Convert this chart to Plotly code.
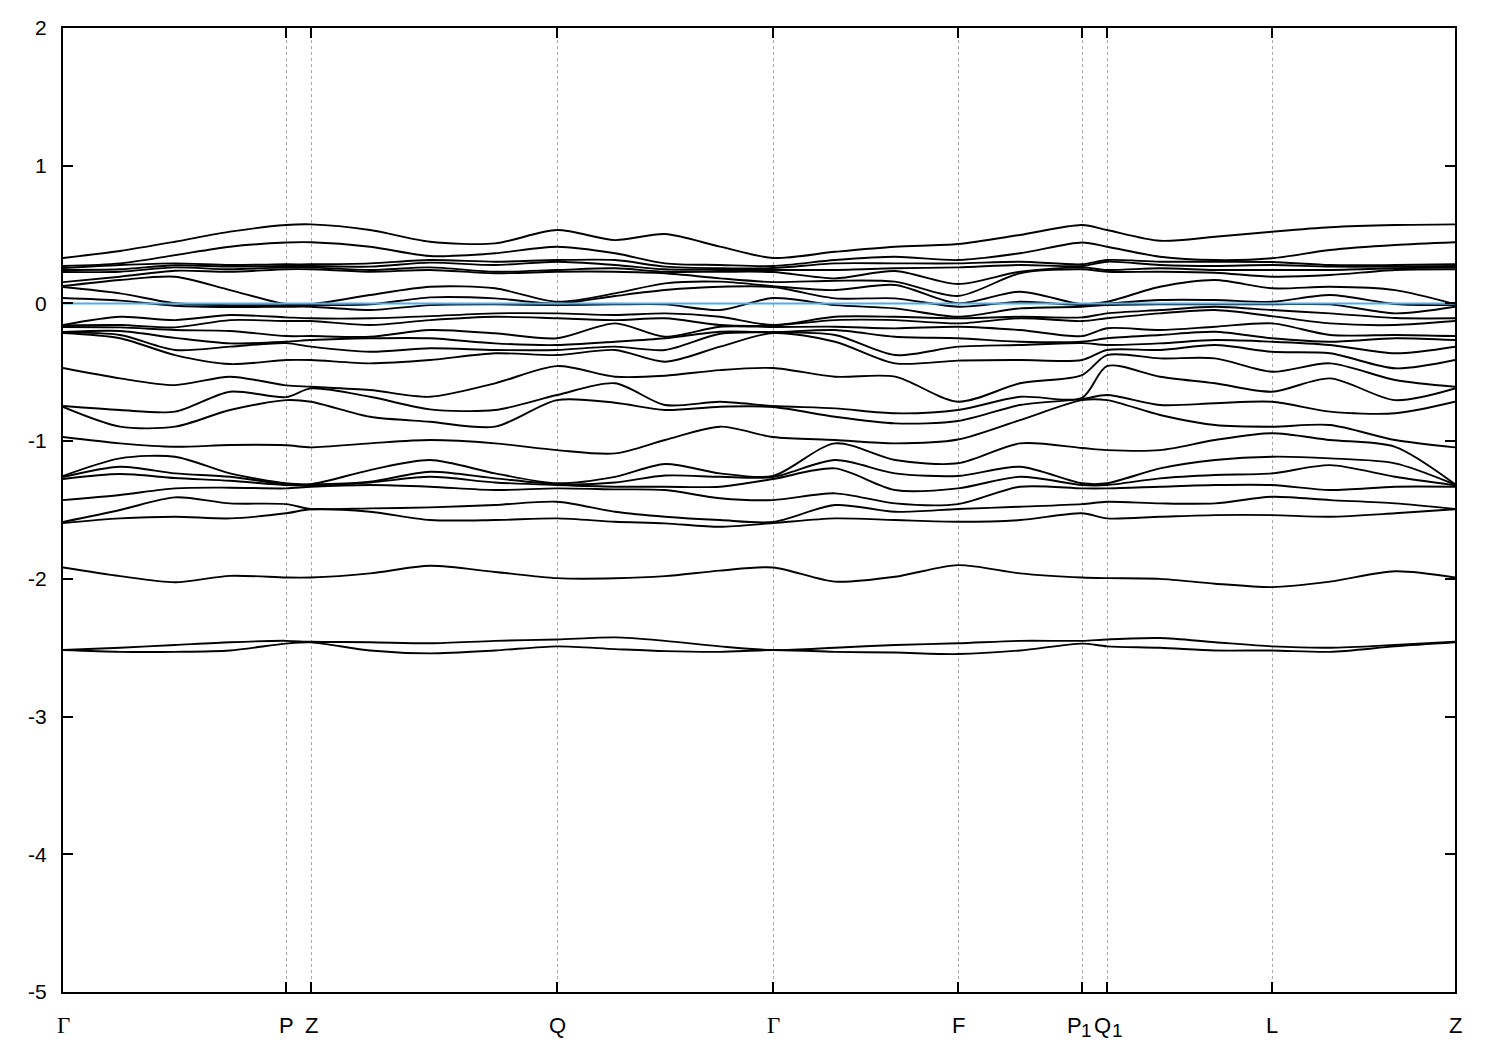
import plotly.graph_objects as go

# ---- k-path (high-symmetry points) ----
k_labels = ["Γ", "P", "Z", "Q", "Γ", "F", "P1", "Q1", "L", "Z"]
k_ticks = [0.0, 0.5575, 0.62, 1.235, 1.775, 2.2375, 2.5475, 2.61, 3.0225, 3.48]

# k positions where band energies were read
k_samples = [0.0, 0.1425, 0.28, 0.4175, 0.5575, 0.62, 0.7675, 0.9175, 1.08, 1.235,
             1.38, 1.505, 1.6425, 1.775, 1.93, 2.08, 2.2375, 2.3925, 2.5475, 2.61,
             2.7425, 2.88, 3.0225, 3.1675, 3.33, 3.48]

# ---- energies (eV) of the 25 upper bands at each sampled k ----
e_G = [0.330, 0.272, 0.257, 0.243, 0.228, 0.155, 0.126, 0.119, 0.039, -0.157, -0.160, -0.171, -0.208, -0.210, -0.215,
       -0.469, -0.745, -0.752, -0.970, -1.253, -1.261, -1.275, -1.428, -1.587, -1.595]
e_GP1 = [0.381, 0.291, 0.279, 0.248, 0.230, 0.194, 0.170, 0.073, 0.020, -0.097, -0.157, -0.174, -0.200, -0.229, -0.253,
         -0.544, -0.774, -0.895, -1.016, -1.125, -1.186, -1.239, -1.391, -1.500, -1.561]
e_GP2 = [0.448, 0.351, 0.291, 0.277, 0.262, 0.237, 0.194, 0.001, -0.017, -0.121, -0.174, -0.193, -0.250, -0.338, -0.375,
         -0.593, -0.786, -0.895, -1.041, -1.113, -1.234, -1.268, -1.343, -1.408, -1.549]
e_GP3 = [0.521, 0.412, 0.279, 0.267, 0.248, 0.230, 0.097, -0.012, -0.026, -0.084, -0.121, -0.200, -0.290, -0.314, -0.440,
         -0.532, -0.641, -0.774, -1.028, -1.234, -1.259, -1.288, -1.338, -1.452, -1.561]
e_P = [0.569, 0.442, 0.284, 0.272, 0.262, 0.248, -0.005, -0.012, -0.024, -0.101, -0.128, -0.237, -0.278, -0.288, -0.411,
       -0.595, -0.680, -0.702, -1.030, -1.306, -1.312, -1.319, -1.343, -1.457, -1.524]
e_Z = [0.574, 0.444, 0.284, 0.272, 0.262, 0.248, -0.005, -0.012, -0.024, -0.108, -0.128, -0.237, -0.266, -0.314, -0.411,
       -0.605, -0.617, -0.714, -1.045, -1.312, -1.315, -1.321, -1.331, -1.493, -1.495]
e_ZQ1 = [0.533, 0.412, 0.291, 0.267, 0.243, 0.230, 0.061, -0.007, -0.048, -0.108, -0.157, -0.242, -0.253, -0.351, -0.435,
         -0.629, -0.678, -0.823, -1.016, -1.210, -1.295, -1.300, -1.319, -1.488, -1.513]
e_ZQ2 = [0.448, 0.344, 0.315, 0.296, 0.262, 0.243, 0.121, 0.044, -0.012, -0.092, -0.121, -0.193, -0.253, -0.326, -0.411,
         -0.678, -0.769, -0.859, -0.992, -1.137, -1.222, -1.259, -1.331, -1.481, -1.573]
e_ZQ3 = [0.436, 0.364, 0.303, 0.279, 0.230, 0.219, 0.110, 0.037, -0.007, -0.072, -0.097, -0.217, -0.290, -0.338, -0.362,
         -0.580, -0.774, -0.895, -1.016, -1.234, -1.270, -1.300, -1.355, -1.464, -1.573]
e_Q = [0.533, 0.412, 0.315, 0.303, 0.243, 0.230, 0.012, -0.001, -0.012, -0.072, -0.108, -0.253, -0.302, -0.338, -0.375,
       -0.455, -0.665, -0.702, -1.065, -1.306, -1.312, -1.319, -1.343, -1.440, -1.561]
e_QG1 = [0.460, 0.364, 0.315, 0.279, 0.255, 0.230, 0.073, 0.054, -0.007, -0.084, -0.121, -0.145, -0.278, -0.314, -0.338,
         -0.532, -0.580, -0.721, -1.089, -1.259, -1.300, -1.331, -1.350, -1.513, -1.585]
e_QG2 = [0.504, 0.291, 0.267, 0.248, 0.230, 0.219, 0.146, 0.097, -0.007, -0.072, -0.108, -0.242, -0.253, -0.338, -0.423,
         -0.525, -0.738, -0.774, -0.992, -1.166, -1.250, -1.331, -1.355, -1.549, -1.597]
e_QG3 = [0.412, 0.279, 0.255, 0.243, 0.230, 0.182, 0.158, 0.121, -0.048, -0.097, -0.157, -0.169, -0.206, -0.220, -0.314,
         -0.484, -0.714, -0.750, -0.895, -1.234, -1.259, -1.331, -1.415, -1.573, -1.622]
e_GF1 = [0.375, 0.315, 0.291, 0.243, 0.182, 0.165, 0.097, 0.037, -0.012, -0.097, -0.121, -0.169, -0.193, -0.229, -0.278,
         -0.532, -0.762, -0.823, -0.992, -1.016, -1.137, -1.198, -1.379, -1.464, -1.561]
e_GF2 = [0.412, 0.339, 0.291, 0.255, 0.235, 0.158, 0.134, 0.037, -0.036, -0.097, -0.121, -0.181, -0.242, -0.375, -0.435,
         -0.532, -0.798, -0.871, -1.016, -1.137, -1.234, -1.355, -1.452, -1.513, -1.573]
e_F = [0.431, 0.315, 0.291, 0.262, 0.141, 0.054, 0.001, -0.024, -0.097, -0.108, -0.145, -0.169, -0.253, -0.314, -0.415,
       -0.714, -0.774, -0.854, -0.988, -1.161, -1.253, -1.343, -1.457, -1.493, -1.585]
e_FP1 = [0.497, 0.364, 0.303, 0.279, 0.230, 0.219, 0.085, 0.012, -0.036, -0.097, -0.108, -0.193, -0.278, -0.302, -0.411,
         -0.580, -0.678, -0.738, -0.847, -1.016, -1.186, -1.259, -1.331, -1.476, -1.573]
e_P1 = [0.569, 0.442, 0.284, 0.272, 0.262, 0.248, -0.005, -0.012, -0.024, -0.101, -0.128, -0.237, -0.278, -0.288, -0.411,
        -0.520, -0.685, -0.695, -0.702, -1.050, -1.306, -1.319, -1.343, -1.457, -1.524]
e_Q1 = [0.533, 0.412, 0.315, 0.303, 0.243, 0.230, 0.012, -0.001, -0.012, -0.072, -0.108, -0.180, -0.253, -0.302, -0.338,
        -0.375, -0.455, -0.665, -0.702, -1.065, -1.306, -1.319, -1.343, -1.440, -1.561]
e_QL1 = [0.455, 0.339, 0.303, 0.279, 0.255, 0.230, 0.121, 0.025, -0.007, -0.048, -0.072, -0.193, -0.229, -0.290, -0.338,
         -0.399, -0.532, -0.738, -0.810, -1.065, -1.198, -1.270, -1.331, -1.452, -1.549]
e_QL2 = [0.484, 0.315, 0.303, 0.272, 0.243, 0.223, 0.170, 0.025, -0.007, -0.024, -0.048, -0.169, -0.206, -0.266, -0.302,
         -0.399, -0.580, -0.725, -0.883, -0.992, -1.137, -1.246, -1.319, -1.452, -1.537]
e_L = [0.521, 0.328, 0.301, 0.279, 0.243, 0.194, 0.110, 0.012, -0.007, -0.048, -0.092, -0.145, -0.253, -0.278, -0.351,
       -0.496, -0.641, -0.714, -0.895, -0.943, -1.113, -1.234, -1.319, -1.404, -1.537]
e_LZ1 = [0.553, 0.388, 0.279, 0.267, 0.243, 0.206, 0.121, 0.061, -0.007, -0.072, -0.145, -0.229, -0.278, -0.302, -0.362,
         -0.435, -0.544, -0.786, -0.883, -0.992, -1.125, -1.174, -1.355, -1.428, -1.549]
e_LZ2 = [0.569, 0.424, 0.279, 0.267, 0.255, 0.243, 0.097, -0.004, -0.072, -0.106, -0.157, -0.229, -0.253, -0.362, -0.471,
         -0.556, -0.702, -0.798, -0.992, -1.041, -1.161, -1.259, -1.331, -1.452, -1.524]

columns = [e_G, e_GP1, e_GP2, e_GP3, e_P, e_Z, e_ZQ1, e_ZQ2, e_ZQ3, e_Q,
           e_QG1, e_QG2, e_QG3, e_G, e_GF1, e_GF2, e_F, e_FP1, e_P1, e_Q1,
           e_QL1, e_QL2, e_L, e_LZ1, e_LZ2, e_Z]

# ---- three lower bands ----
band_m2 = [-1.917, -1.98, -2.025, -1.978, -1.99, -1.99, -1.96, -1.905, -1.95, -1.995, -1.996, -1.98, -1.94,
           -1.917, -2.02, -1.985, -1.90, -1.96, -1.99, -1.995, -2.0, -2.035, -2.06, -2.02, -1.945, -1.99]
band_m25a = [-2.517, -2.50, -2.48, -2.46, -2.45, -2.457, -2.46, -2.468, -2.45, -2.44, -2.425, -2.45, -2.49,
             -2.517, -2.50, -2.48, -2.468, -2.45, -2.45, -2.44, -2.43, -2.46, -2.49, -2.50, -2.48, -2.457]
band_m25b = [-2.517, -2.53, -2.53, -2.52, -2.47, -2.461, -2.52, -2.541, -2.52, -2.49, -2.51, -2.525, -2.53,
             -2.517, -2.53, -2.535, -2.546, -2.52, -2.47, -2.49, -2.50, -2.52, -2.52, -2.53, -2.49, -2.461]

fermi = 0.0
y_ticks = [2, 1, 0, -1, -2, -3, -4, -5]

nb = len(e_G)
for c in columns:
    assert len(c) == nb, len(c)
sorted_cols = [sorted(c) for c in columns]
bands = [[col[j] for col in sorted_cols] for j in range(nb)]
bands += [band_m2, band_m25a, band_m25b]

fig = go.Figure()
for b in bands:
    fig.add_trace(go.Scatter(x=k_samples, y=b, mode="lines",
                             line=dict(color="black", width=1.9, shape="spline", smoothing=0.8),
                             showlegend=False, hoverinfo="skip"))

fig.add_trace(go.Scatter(x=[k_ticks[0], k_ticks[-1]], y=[fermi, fermi], mode="lines",
                         line=dict(color="#4DAEE8", width=2), showlegend=False, hoverinfo="skip"))

font = dict(family="Liberation Sans, Arial, sans-serif", size=21, color="black")
sans = dict(family="Liberation Sans, Arial, sans-serif", size=22, color="black")
digit = dict(family="Liberation Sans, Arial, sans-serif", size=19, color="black")
serif = dict(family="Liberation Serif, Times New Roman, serif", size=23, color="black")

# letter / index offsets (pixels) for the subscripted labels
sub_offsets = {"P1": (-8, 4), "Q1": (-5, 10)}

# high-symmetry labels drawn as plain-text annotations below the axis
for kv, t in zip(k_ticks, k_labels):
    if t == "Γ":
        fig.add_annotation(x=kv, xref="x", y=0, yref="paper", yanchor="top", yshift=-19,
                           text=t, showarrow=False, font=serif)
    elif t in sub_offsets:  # letter with index set lower (gnuplot style)
        dl, dd = sub_offsets[t]
        fig.add_annotation(x=kv, xref="x", y=0, yref="paper", yanchor="top", yshift=-19, xshift=dl,
                           text=t[0], showarrow=False, font=sans)
        fig.add_annotation(x=kv, xref="x", y=0, yref="paper", yanchor="top", yshift=-26, xshift=dd,
                           text=t[1], showarrow=False, font=digit)
    else:
        fig.add_annotation(x=kv, xref="x", y=0, yref="paper", yanchor="top", yshift=-19,
                           text=t, showarrow=False, font=sans)

fig.update_layout(
    width=1500, height=1050,
    margin=dict(l=55, r=53, t=20, b=66, autoexpand=False),
    paper_bgcolor="white", plot_bgcolor="white",
    font=font,
    xaxis=dict(range=[k_ticks[0], k_ticks[-1]], tickmode="array", tickvals=k_ticks, showticklabels=False,
               automargin=False,
               ticks="inside", ticklen=10, tickwidth=1.5, tickcolor="black",
               showline=True, linecolor="black", linewidth=2, mirror="ticks",
               showgrid=True, gridcolor="#a8a8a8", gridwidth=1, griddash="dot",
               zeroline=False),
    yaxis=dict(range=[-5, 2], tickmode="array", tickvals=y_ticks, ticktext=[str(v) for v in y_ticks],
               automargin=False,
               ticks="inside", ticklen=10, tickwidth=1.5, tickcolor="black",
               showline=True, linecolor="black", linewidth=2, mirror="ticks",
               showgrid=False, zeroline=False, ticklabelstandoff=10, tickfont=font),
)

fig.write_html("out.html")
